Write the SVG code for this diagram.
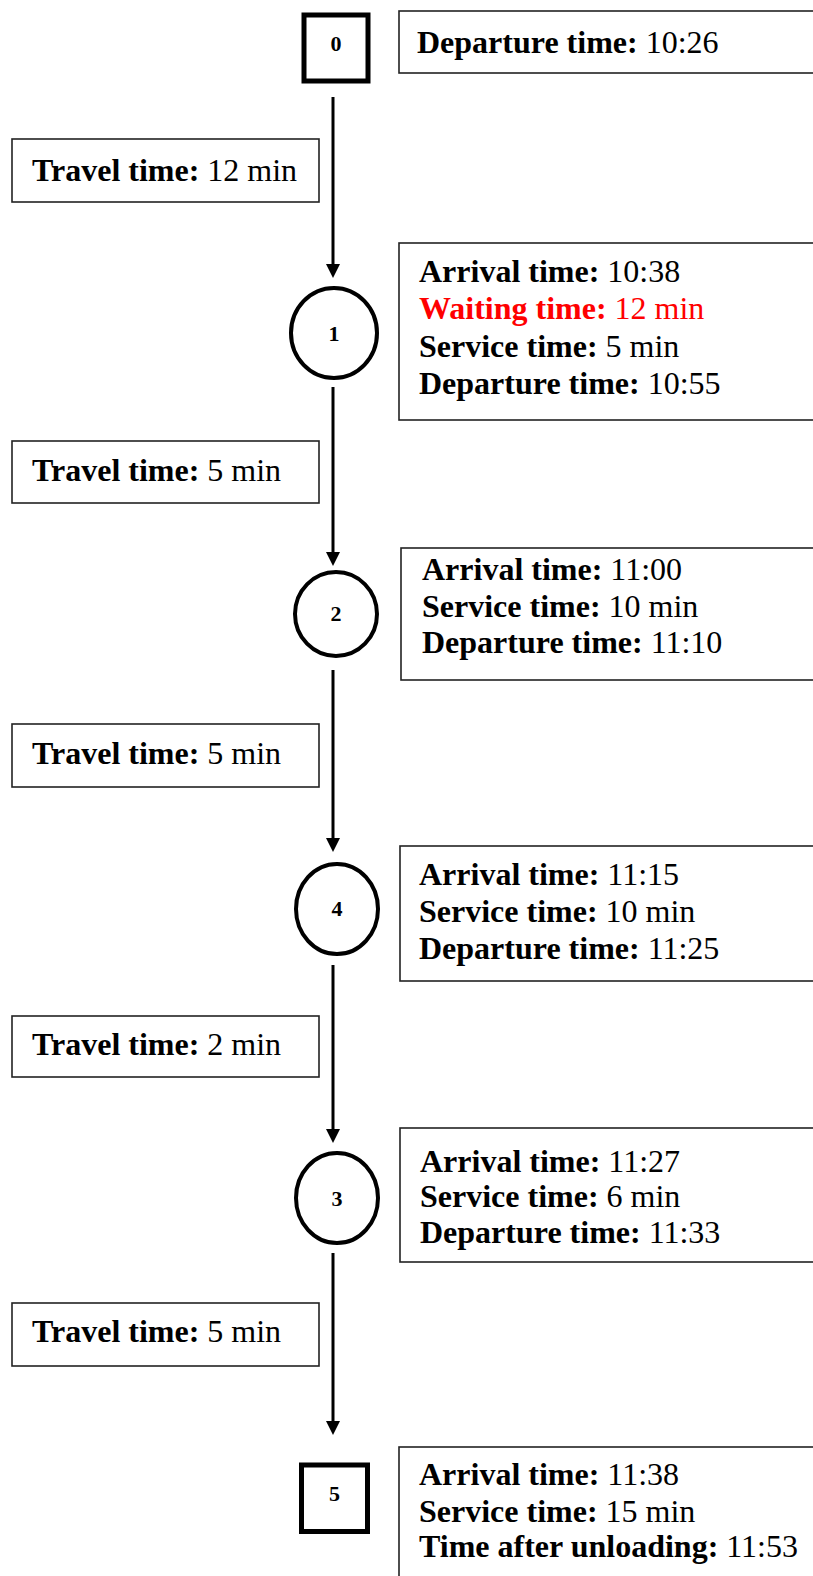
<svg xmlns="http://www.w3.org/2000/svg" width="813" height="1576" viewBox="0 0 813 1576">
  <style>
    text { font-family: "Liberation Serif", "Times New Roman", serif; fill: #000; }
    .info { font-size: 32px; }
    .b { font-weight: bold; }
    .red { fill: #ff0000; }
    .box { fill: #fff; stroke: #222; stroke-width: 1.6; }
    .sq { fill: #fff; stroke: #000; stroke-width: 5; }
    .circ { fill: #fff; stroke: #000; stroke-width: 4; }
    .lbl { font-size: 22px; font-weight: bold; text-anchor: middle; }
    .edge { stroke: #000; stroke-width: 3; fill: none; marker-end: url(#arrow); }
  </style>
  <defs>
    <marker id="arrow" markerUnits="userSpaceOnUse" viewBox="0 0 14 14" markerWidth="14" markerHeight="14" refX="4" refY="7" orient="auto">
      <path d="M0,0 L14,7 L0,14 z" fill="#000"/>
    </marker>
  </defs>
  <rect width="813" height="1576" fill="#fff"/>

  <!-- connectors along the route -->
  <g id="connectors">
    <line class="edge" x1="333" y1="97" x2="333" y2="268"/>
    <line class="edge" x1="333" y1="387" x2="333" y2="556"/>
    <line class="edge" x1="333" y1="670" x2="333" y2="842"/>
    <line class="edge" x1="333" y1="965" x2="333" y2="1133"/>
    <line class="edge" x1="333" y1="1253" x2="333" y2="1425"/>
  </g>

  <!-- travel time labels -->
  <g id="travel-0-1">
    <rect class="box" x="12" y="139" width="307" height="63"/>
    <text class="info" x="32" y="181"><tspan class="b">Travel time:</tspan> 12 min</text>
  </g>
  <g id="travel-1-2">
    <rect class="box" x="12" y="441" width="307" height="62"/>
    <text class="info" x="32" y="481"><tspan class="b">Travel time:</tspan> 5 min</text>
  </g>
  <g id="travel-2-4">
    <rect class="box" x="12" y="724" width="307" height="63"/>
    <text class="info" x="32" y="764"><tspan class="b">Travel time:</tspan> 5 min</text>
  </g>
  <g id="travel-4-3">
    <rect class="box" x="12" y="1016" width="307" height="61"/>
    <text class="info" x="32" y="1055"><tspan class="b">Travel time:</tspan> 2 min</text>
  </g>
  <g id="travel-3-5">
    <rect class="box" x="12" y="1303" width="307" height="63"/>
    <text class="info" x="32" y="1342"><tspan class="b">Travel time:</tspan> 5 min</text>
  </g>

  <!-- depot 0 -->
  <g id="node-0">
    <rect class="sq" x="304" y="15" width="64" height="66"/>
    <text class="lbl" x="336" y="51">0</text>
  </g>
  <g id="info-0">
    <rect class="box" x="399" y="11" width="430" height="62"/>
    <text class="info" x="417" y="53"><tspan class="b">Departure time:</tspan> 10:26</text>
  </g>

  <!-- customer 1 -->
  <g id="node-1">
    <ellipse class="circ" cx="334" cy="333" rx="43" ry="45"/>
    <text class="lbl" x="334" y="341">1</text>
  </g>
  <g id="info-1">
    <rect class="box" x="399" y="243" width="430" height="177"/>
    <text class="info" x="419" y="282"><tspan class="b">Arrival time:</tspan> 10:38</text>
    <text class="info red" x="419" y="319"><tspan class="b">Waiting time:</tspan> 12 min</text>
    <text class="info" x="419" y="357"><tspan class="b">Service time:</tspan> 5 min</text>
    <text class="info" x="419" y="394"><tspan class="b">Departure time:</tspan> 10:55</text>
  </g>

  <!-- customer 2 -->
  <g id="node-2">
    <ellipse class="circ" cx="336" cy="614" rx="41" ry="42"/>
    <text class="lbl" x="336" y="621">2</text>
  </g>
  <g id="info-2">
    <rect class="box" x="401" y="548" width="430" height="132"/>
    <text class="info" x="422" y="580"><tspan class="b">Arrival time:</tspan> 11:00</text>
    <text class="info" x="422" y="617"><tspan class="b">Service time:</tspan> 10 min</text>
    <text class="info" x="422" y="653"><tspan class="b">Departure time:</tspan> 11:10</text>
  </g>

  <!-- customer 4 -->
  <g id="node-4">
    <ellipse class="circ" cx="337" cy="909" rx="41" ry="45"/>
    <text class="lbl" x="337" y="916">4</text>
  </g>
  <g id="info-4">
    <rect class="box" x="400" y="846" width="430" height="135"/>
    <text class="info" x="419" y="885"><tspan class="b">Arrival time:</tspan> 11:15</text>
    <text class="info" x="419" y="922"><tspan class="b">Service time:</tspan> 10 min</text>
    <text class="info" x="419" y="959"><tspan class="b">Departure time:</tspan> 11:25</text>
  </g>

  <!-- customer 3 -->
  <g id="node-3">
    <ellipse class="circ" cx="337" cy="1198" rx="41" ry="45"/>
    <text class="lbl" x="337" y="1206">3</text>
  </g>
  <g id="info-3">
    <rect class="box" x="400" y="1128" width="430" height="134"/>
    <text class="info" x="420" y="1172"><tspan class="b">Arrival time:</tspan> 11:27</text>
    <text class="info" x="420" y="1207"><tspan class="b">Service time:</tspan> 6 min</text>
    <text class="info" x="420" y="1243"><tspan class="b">Departure time:</tspan> 11:33</text>
  </g>

  <!-- depot 5 (unloading) -->
  <g id="node-5">
    <rect class="sq" x="301.5" y="1465" width="66" height="66.5"/>
    <text class="lbl" x="334.5" y="1501">5</text>
  </g>
  <g id="info-5">
    <rect class="box" x="399" y="1447" width="430" height="150"/>
    <text class="info" x="419" y="1485"><tspan class="b">Arrival time:</tspan> 11:38</text>
    <text class="info" x="419" y="1522"><tspan class="b">Service time:</tspan> 15 min</text>
    <text class="info" x="419" y="1557"><tspan class="b">Time after unloading:</tspan> 11:53</text>
  </g>
</svg>
